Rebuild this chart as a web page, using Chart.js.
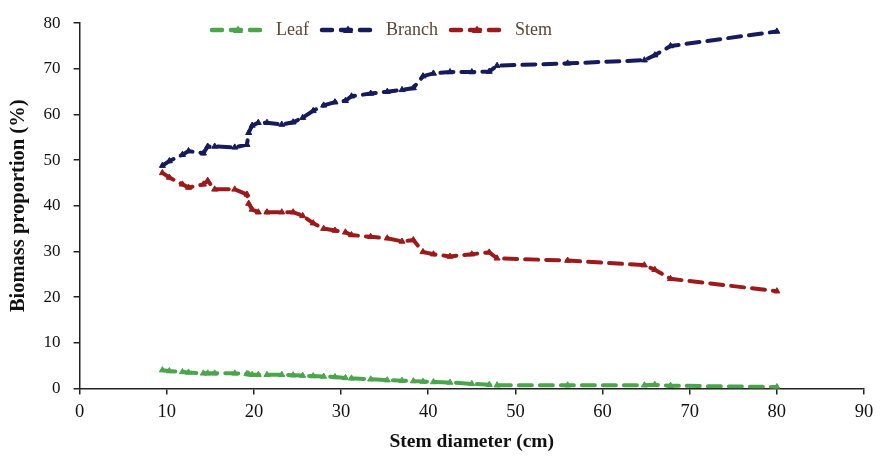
<!DOCTYPE html>
<html>
<head>
<meta charset="utf-8">
<script src="https://cdn.jsdelivr.net/npm/chart.js@4/dist/chart.umd.min.js"></script>
<style>
  html, body { margin: 0; padding: 0; background: #fff; }
  #wrap { width: 884px; height: 463px; }
</style>
</head>
<body>
<div id="wrap"><canvas id="grafico"></canvas></div>
<script>
// stem diameter (cm) shared by the three series
const diametros = [9.5, 10.3, 11.8, 12.5, 14.2, 14.7, 15.5, 17.8, 19.2, 19.4, 19.8, 20.5, 21.5, 23.2, 24.5, 25.6,
    26.8, 28, 29.3, 30.5, 31.2, 33.4, 35.3, 37, 38.3, 39.4, 40.6, 42.5, 45, 47, 47.9, 56, 64.8, 66, 67.8, 80];

const hoja = [4, 3.8, 3.6, 3.5, 3.3, 3.3, 3.3, 3.3, 3.2, 3.1, 3, 3, 3, 3, 2.9, 2.8,
    2.7, 2.6, 2.5, 2.3, 2.2, 2, 1.8, 1.7, 1.6, 1.5, 1.4, 1.3, 1, 0.8, 0.7, 0.7, 0.7, 0.8, 0.6, 0.3];

const rama = [48.8, 49.8, 51.2, 52, 51.5, 53, 53, 52.8, 53.4, 56, 57.6, 58.2, 58.2, 57.8, 58.3, 59.3,
    60.8, 62, 62.7, 63, 64, 64.6, 65, 65.4, 65.8, 68.4, 69, 69.3, 69.3, 69.4, 70.7, 71.2, 71.9, 73, 75, 78.2];

const tallo = [47.2, 46.2, 44.7, 44, 44.7, 45.5, 43.6, 43.6, 42.5, 40.5, 39.2, 38.6, 38.6, 38.6, 38.6, 37.8,
    36.2, 35, 34.6, 34.2, 33.6, 33.2, 32.9, 32.2, 32.5, 29.9, 29.4, 28.9, 29.4, 29.8, 28.5, 28, 27, 26, 24, 21.3];

const etiquetas = ['Leaf', 'Branch', 'Stem'];
const colores = ['#4ba64b', '#151b5c', '#9c1a1a'];
const series = [hoja, rama, tallo];

const serif = "'Liberation Serif', 'DejaVu Serif', serif";

// icono de leyenda: linea discontinua con triangulo
function iconoLeyenda(color) {
    const c = document.createElement('canvas');
    c.width = 58; c.height = 12;
    const g = c.getContext('2d');
    g.strokeStyle = color;
    g.lineWidth = 4.5;
    g.lineCap = 'round';
    g.setLineDash([10, 9]);
    g.beginPath();
    g.moveTo(3, 6); g.lineTo(56, 6);
    g.stroke();
    g.fillStyle = color;
    g.beginPath();
    g.moveTo(29, 1.5); g.lineTo(34, 9); g.lineTo(24, 9);
    g.closePath();
    g.fill();
    return c;
}

const datasets = series.map((valores, i) => ({
    label: etiquetas[i],
    data: diametros.map((d, j) => ({ x: d, y: valores[j] })),
    borderColor: colores[i],
    backgroundColor: colores[i],
    borderWidth: 4,
    borderDash: [13, 8],
    borderCapStyle: 'round',
    pointStyle: 'triangle',
    pointRadius: 3.5,
    pointBorderWidth: 1,
    tension: 0
}));

// la leyenda no reserva espacio y se dibuja dentro del grafico
const moverLeyenda = {
    id: 'moverLeyenda',
    beforeLayout(chart) {
        const lg = chart.legend;
        if (lg && !lg._parcheado) {
            const fitOriginal = lg.fit;
            lg.fit = function () {
                fitOriginal.call(this);
                this._altoReal = this.height;
                this.height = 0;
            };
            lg._parcheado = true;
        }
    },
    afterLayout(chart) {
        const lg = chart.legend;
        lg.left = 199;
        lg.right = 884;
        lg.top = 11;
        lg.bottom = 11 + (lg._altoReal || 40);
        lg.height = lg.bottom - lg.top;
    }
};

const ctx = document.getElementById('grafico').getContext('2d');
new Chart(ctx, {
    type: 'line',
    data: { datasets: datasets },
    plugins: [moverLeyenda],
    options: {
        responsive: true,
        maintainAspectRatio: false,
        animation: false,
        layout: { padding: { top: 2, right: 20, left: 6, bottom: 5 } },
        plugins: {
            tooltip: { enabled: false },
            legend: {
                position: 'top',
                align: 'start',
                labels: {
                    usePointStyle: true,
                    pointStyleWidth: 58,
                    padding: 10,
                    color: '#5a4636',
                    font: { family: serif, size: 18 },
                    generateLabels(chart) {
                        return chart.data.datasets.map((ds, i) => ({
                            text: ds.label,
                            pointStyle: iconoLeyenda(colores[i]),
                            fontColor: '#5a4636',
                            lineWidth: 0,
                            strokeStyle: 'transparent',
                            fillStyle: 'transparent',
                            datasetIndex: i
                        }));
                    }
                }
            }
        },
        scales: {
            x: {
                type: 'linear',
                min: 0,
                max: 90,
                ticks: { stepSize: 10, color: '#111', font: { family: serif, size: 18.5 }, padding: 7 },
                grid: { display: true, drawOnChartArea: false, drawTicks: true, tickLength: 6, color: '#222', lineWidth: 1.5 },
                border: { color: '#222', width: 1.5 },
                title: { display: true, text: 'Stem diameter (cm)', color: '#111', font: { family: serif, size: 19.5, weight: 'bold' }, padding: { top: 0 } }
            },
            y: {
                min: 0,
                max: 80,
                ticks: { stepSize: 10, color: '#111', font: { family: serif, size: 17 }, padding: 13 },
                grid: { display: true, drawOnChartArea: false, drawTicks: true, tickLength: 6, color: '#222', lineWidth: 1.5 },
                border: { color: '#222', width: 1.5 },
                title: { display: true, text: 'Biomass proportion (%)', color: '#111', font: { family: serif, size: 20.5, weight: 'bold' }, padding: { top: 0, bottom: 0 } }
            }
        }
    }
});
</script>
</body>
</html>
